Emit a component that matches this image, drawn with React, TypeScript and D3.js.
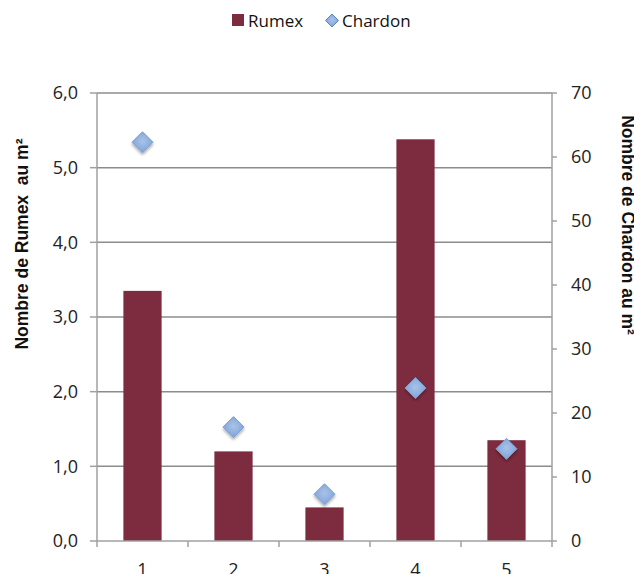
import React from "react";
import * as d3 from "d3";

const categories = ["1", "2", "3", "4", "5"];
const rumex = [3.35, 1.2, 0.45, 5.38, 1.35];
const chardon = [62.3, 17.8, 7.3, 23.9, 14.4];
const leftTicks = [0, 1, 2, 3, 4, 5, 6];
const rightTicks = [0, 10, 20, 30, 40, 50, 60, 70];

const W = 634, H = 574;
const left = 97, right = 552, top = 93, bottom = 541;
const FONT = "'Open Sans', sans-serif";
const TITLE_FONT = "'Liberation Sans', Arial, sans-serif";

export default function App() {
  const x = d3.scaleBand<string>().domain(categories).range([left, right]).paddingInner(0.58).paddingOuter(0.29);
  const xb = d3.scaleBand<string>().domain(categories).range([left, right]);
  const yL = d3.scaleLinear().domain([0, 6]).range([bottom, top]);
  const yR = d3.scaleLinear().domain([0, 70]).range([bottom, top]);
  const fmt = (v: number) => v.toFixed(1).replace(".", ",");
  const gridColor = "#8c8c8c";
  const axisColor = "#a0a0a0";
  const d = 10.5;
  const diamond = (cx: number, cy: number, r: number) => `M${cx},${cy - r}L${cx + r},${cy}L${cx},${cy + r}L${cx - r},${cy}Z`;

  return (
    <svg width={W} height={H} style={{ position: "absolute", left: 0, top: 0, display: "block" }} fontFamily={FONT}>
      <defs>
        <radialGradient id="dg" cx="50%" cy="45%" r="60%">
          <stop offset="0%" stopColor="#a9c3e8" />
          <stop offset="100%" stopColor="#7aa0d6" />
        </radialGradient>
        <filter id="sh" x="-50%" y="-50%" width="200%" height="200%">
          <feGaussianBlur in="SourceAlpha" stdDeviation="1.5" />
          <feOffset dx="0" dy="1.5" result="b" />
          <feComponentTransfer><feFuncA type="linear" slope="0.35" /></feComponentTransfer>
          <feMerge><feMergeNode /><feMergeNode in="SourceGraphic" /></feMerge>
        </filter>
      </defs>
      <rect width={W} height={H} fill="#fff" />
      {/* gridlines */}
      {leftTicks.filter(t => t > 0).map(t => (
        <line key={t} x1={left} x2={right} y1={yL(t)} y2={yL(t)} stroke={gridColor} strokeWidth={1.5} />
      ))}
      {/* left axis */}
      <line x1={left} x2={left} y1={top} y2={bottom} stroke={axisColor} strokeWidth={1.5} />
      {leftTicks.map(t => (
        <g key={t}>
          <line x1={left - 7} x2={left} y1={yL(t)} y2={yL(t)} stroke={axisColor} strokeWidth={1.5} />
          <text x={78} y={yL(t)} dy="0.35em" textAnchor="end" fontSize={18} fill="#222">{fmt(t)}</text>
        </g>
      ))}
      {/* right axis */}
      <line x1={right} x2={right} y1={top} y2={bottom} stroke={axisColor} strokeWidth={1.5} />
      {rightTicks.map(t => (
        <g key={t}>
          <line x1={right} x2={right + 5} y1={yR(t)} y2={yR(t)} stroke={axisColor} strokeWidth={1.5} />
          <text x={571} y={yR(t)} dy="0.35em" textAnchor="start" fontSize={18} fill="#222">{t}</text>
        </g>
      ))}
      {/* bars */}
      {categories.map((c, i) => (
        <rect key={c} x={x(c)} y={yL(rumex[i])} width={x.bandwidth()} height={bottom - yL(rumex[i])} fill="#7d2c3f" />
      ))}
      {/* x axis */}
      <line x1={left} x2={right} y1={bottom} y2={bottom} stroke={axisColor} strokeWidth={1.5} />
      {[...categories.map(c => xb(c)!), right].map((v, i) => (
        <line key={i} x1={v} x2={v} y1={bottom} y2={bottom + 6} stroke={axisColor} strokeWidth={1.5} />
      ))}
      {categories.map(c => (
        <text key={c} x={xb(c)! + xb.bandwidth() / 2} y={576} textAnchor="middle" fontSize={18} fill="#222">{c}</text>
      ))}
      {/* chardon points */}
      {categories.map((c, i) => (
        <path key={c} d={diamond(xb(c)! + xb.bandwidth() / 2, yR(chardon[i]), d)} fill="url(#dg)" stroke="#7d9fd0" strokeWidth={1} filter="url(#sh)" />
      ))}
      {/* axis titles */}
      <text transform={`translate(28,${244}) rotate(-90)`} textAnchor="middle" fontSize={17.5} fontWeight="bold" fill="#111" fontFamily={TITLE_FONT} xmlSpace="preserve" style={{ whiteSpace: "pre" }}>
        {"Nombre de Rumex  au m²"}
      </text>
      <text transform={`translate(622,${225}) rotate(90)`} textAnchor="middle" fontSize={17.5} fontWeight="bold" fill="#111" fontFamily={TITLE_FONT}>
        Nombre de Chardon au m²
      </text>
      {/* legend */}
      <rect x={232} y={14} width={12} height={12} fill="#7d2c3f" />
      <text x={248} y={27} fontSize={17} fill="#111">Rumex</text>
      <path d={diamond(332, 20.5, 6.5)} fill="url(#dg)" stroke="#5b85c4" strokeWidth={1} />
      <text x={342} y={27} fontSize={17} fill="#111">Chardon</text>
    </svg>
  );
}
